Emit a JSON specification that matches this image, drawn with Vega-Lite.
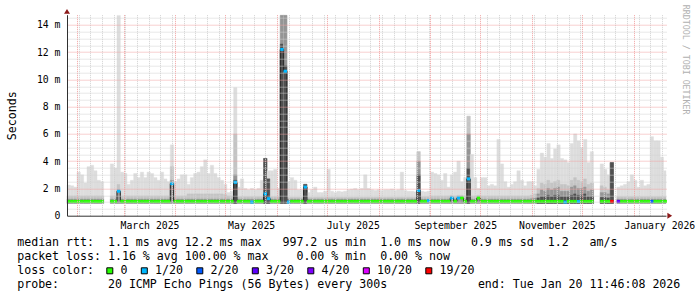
{
  "$schema": "https://vega.github.io/schema/vega-lite/v6.json",
  "width": 599,
  "height": 201,
  "autosize": "none",
  "padding": {"left": 67, "top": 14.7, "right": 31, "bottom": 81.3},
  "background": "white",
  "config": {
    "view": {"stroke": null},
    "axis": {"labelFont": "DejaVu Sans Mono", "labelFontSize": 9.8, "labelColor": "#000000", "titleFont": "DejaVu Sans Mono", "titleFontSize": 11.6, "titleFontWeight": "normal", "titleColor": "#000000", "ticks": false, "tickSize": 0, "gridDash": [1, 1], "gridWidth": 1, "domain": true, "domainColor": "#303030", "domainWidth": 1, "labelOverlap": false, "labelFlush": false}
  },
  "title": {"text": "RRDTOOL / TOBI OETIKER", "orient": "right", "anchor": "start", "frame": "group", "angle": 90, "baseline": "middle", "offset": -18.5, "dx": -10, "font": "DejaVu Sans Mono", "fontSize": 8.3, "fontWeight": "normal", "color": "#b0b0b0"},
  "datasets": {
    "ping": [
      {"t":"2025-01-26","t2":"2025-01-28","hi":2.25,"mid":1.45,"dk":1.22,"med":1.05,"loss":"0"},
      {"t":"2025-01-28","t2":"2025-01-30","hi":2.2,"mid":1.45,"dk":1.22,"med":1.05,"loss":"0"},
      {"t":"2025-01-30","t2":"2025-02-01","hi":2.1,"mid":1.45,"dk":1.22,"med":1.05,"loss":"0"},
      {"t":"2025-02-01","t2":"2025-02-03","hi":3.2,"mid":1.45,"dk":1.22,"med":1.05,"loss":"0"},
      {"t":"2025-02-03","t2":"2025-02-05","hi":3.0,"mid":1.45,"dk":1.22,"med":1.05,"loss":"0"},
      {"t":"2025-02-05","t2":"2025-02-07","hi":2.4,"mid":1.45,"dk":1.22,"med":1.05,"loss":"0"},
      {"t":"2025-02-07","t2":"2025-02-09","hi":3.6,"mid":1.45,"dk":1.22,"med":1.05,"loss":"0"},
      {"t":"2025-02-09","t2":"2025-02-11","hi":3.7,"mid":1.45,"dk":1.22,"med":1.05,"loss":"0"},
      {"t":"2025-02-11","t2":"2025-02-13","hi":3.3,"mid":1.45,"dk":1.22,"med":1.05,"loss":"0"},
      {"t":"2025-02-13","t2":"2025-02-15","hi":2.6,"mid":1.45,"dk":1.22,"med":1.05,"loss":"0"},
      {"t":"2025-02-15","t2":"2025-02-17","hi":2.5,"mid":1.45,"dk":1.22,"med":1.05,"loss":"0"},
      {"t":"2025-02-17","t2":"2025-02-19"},
      {"t":"2025-02-19","t2":"2025-02-21"},
      {"t":"2025-02-21","t2":"2025-02-23","hi":3.8,"mid":1.45,"dk":1.22,"med":1.05,"loss":"0"},
      {"t":"2025-02-23","t2":"2025-02-25","hi":3.5,"mid":1.45,"dk":1.22,"med":1.05,"loss":"0"},
      {"t":"2025-02-25","t2":"2025-02-27","hi":14.7,"mid":2.3,"dk":1.9,"med":1.8,"loss":"1/20"},
      {"t":"2025-02-27","t2":"2025-03-01","hi":3.2,"mid":1.45,"dk":1.22,"med":1.05,"loss":"0"},
      {"t":"2025-03-01","t2":"2025-03-03","hi":3.1,"mid":1.45,"dk":1.22,"med":1.05,"loss":"0"},
      {"t":"2025-03-03","t2":"2025-03-05","hi":2.3,"mid":1.45,"dk":1.22,"med":1.05,"loss":"0"},
      {"t":"2025-03-05","t2":"2025-03-07","hi":2.6,"mid":1.45,"dk":1.22,"med":1.05,"loss":"0"},
      {"t":"2025-03-07","t2":"2025-03-09","hi":3.1,"mid":1.45,"dk":1.22,"med":1.05,"loss":"0"},
      {"t":"2025-03-09","t2":"2025-03-11","hi":2.8,"mid":1.45,"dk":1.22,"med":1.05,"loss":"0"},
      {"t":"2025-03-11","t2":"2025-03-13","hi":3.2,"mid":1.45,"dk":1.22,"med":1.05,"loss":"0"},
      {"t":"2025-03-13","t2":"2025-03-15","hi":2.8,"mid":1.45,"dk":1.22,"med":1.05,"loss":"0"},
      {"t":"2025-03-15","t2":"2025-03-17","hi":3.2,"mid":1.45,"dk":1.22,"med":1.05,"loss":"0"},
      {"t":"2025-03-17","t2":"2025-03-19","hi":3.1,"mid":1.45,"dk":1.22,"med":1.05,"loss":"0"},
      {"t":"2025-03-19","t2":"2025-03-21","hi":2.8,"mid":1.45,"dk":1.22,"med":1.05,"loss":"0"},
      {"t":"2025-03-21","t2":"2025-03-23","hi":2.6,"mid":1.45,"dk":1.22,"med":1.05,"loss":"0"},
      {"t":"2025-03-23","t2":"2025-03-25","hi":3.2,"mid":1.45,"dk":1.22,"med":1.05,"loss":"0"},
      {"t":"2025-03-25","t2":"2025-03-27","hi":2.7,"mid":1.45,"dk":1.22,"med":1.05,"loss":"0"},
      {"t":"2025-03-27","t2":"2025-03-29","hi":2.5,"mid":1.45,"dk":1.22,"med":1.05,"loss":"0"},
      {"t":"2025-03-29","t2":"2025-03-31","hi":5.2,"mid":3.6,"dk":2.6,"med":2.35,"loss":"1/20"},
      {"t":"2025-03-31","t2":"2025-04-02","hi":2.5,"mid":1.45,"dk":1.22,"med":1.05,"loss":"0"},
      {"t":"2025-04-02","t2":"2025-04-04","hi":2.7,"mid":1.45,"dk":1.22,"med":1.05,"loss":"0"},
      {"t":"2025-04-04","t2":"2025-04-06","hi":3.0,"mid":1.45,"dk":1.22,"med":1.05,"loss":"0"},
      {"t":"2025-04-06","t2":"2025-04-08","hi":3.0,"mid":1.45,"dk":1.22,"med":1.05,"loss":"0"},
      {"t":"2025-04-08","t2":"2025-04-10","hi":2.3,"mid":1.6,"dk":1.22,"med":1.05,"loss":"0"},
      {"t":"2025-04-10","t2":"2025-04-12","hi":2.8,"mid":1.6,"dk":1.22,"med":1.05,"loss":"0"},
      {"t":"2025-04-12","t2":"2025-04-14","hi":3.1,"mid":1.6,"dk":1.22,"med":1.05,"loss":"0"},
      {"t":"2025-04-14","t2":"2025-04-16","hi":3.2,"mid":1.6,"dk":1.22,"med":1.05,"loss":"0"},
      {"t":"2025-04-16","t2":"2025-04-18","hi":3.6,"mid":1.6,"dk":1.22,"med":1.05,"loss":"0"},
      {"t":"2025-04-18","t2":"2025-04-20","hi":4.1,"mid":1.6,"dk":1.22,"med":1.05,"loss":"0"},
      {"t":"2025-04-20","t2":"2025-04-22","hi":3.1,"mid":1.6,"dk":1.22,"med":1.05,"loss":"0"},
      {"t":"2025-04-22","t2":"2025-04-24","hi":3.7,"mid":1.6,"dk":1.22,"med":1.05,"loss":"0"},
      {"t":"2025-04-24","t2":"2025-04-26","hi":3.1,"mid":1.6,"dk":1.22,"med":1.05,"loss":"0"},
      {"t":"2025-04-26","t2":"2025-04-28","hi":2.8,"mid":1.6,"dk":1.22,"med":1.05,"loss":"0"},
      {"t":"2025-04-28","t2":"2025-04-30","hi":2.6,"mid":1.6,"dk":1.22,"med":1.05,"loss":"0"},
      {"t":"2025-04-30","t2":"2025-05-02","hi":2.3,"mid":1.55,"dk":1.22,"med":1.05,"loss":"0"},
      {"t":"2025-05-02","t2":"2025-05-04","hi":1.7,"mid":1.45,"dk":1.22,"med":1.05,"loss":"0"},
      {"t":"2025-05-04","t2":"2025-05-06","hi":1.8,"mid":1.45,"dk":1.22,"med":1.05,"loss":"0"},
      {"t":"2025-05-06","t2":"2025-05-08","hi":9.4,"mid":6.0,"dk":3.0,"core":2.6,"med":2.45,"loss":"1/20"},
      {"t":"2025-05-08","t2":"2025-05-10","hi":2.1,"mid":1.4,"dk":1.22,"med":1.05,"loss":"0"},
      {"t":"2025-05-10","t2":"2025-05-12","hi":2.7,"mid":1.4,"dk":1.22,"med":1.05,"loss":"0"},
      {"t":"2025-05-12","t2":"2025-05-14","hi":2.0,"mid":1.4,"dk":1.22,"med":1.05,"loss":"0"},
      {"t":"2025-05-14","t2":"2025-05-16","hi":1.9,"mid":1.4,"dk":1.22,"med":1.05,"loss":"0"},
      {"t":"2025-05-16","t2":"2025-05-18","hi":2.0,"mid":1.4,"dk":1.22,"med":1.0,"loss":"1/20"},
      {"t":"2025-05-18","t2":"2025-05-20","hi":1.9,"mid":1.4,"dk":1.22,"med":1.05,"loss":"0"},
      {"t":"2025-05-20","t2":"2025-05-22","hi":2.0,"mid":1.4,"dk":1.22,"med":1.05,"loss":"0"},
      {"t":"2025-05-22","t2":"2025-05-24","hi":2.6,"mid":1.4,"dk":1.22,"med":1.05,"loss":"0"},
      {"t":"2025-05-24","t2":"2025-05-26","hi":4.2,"mid":4.2,"dk":4.2,"core":4.2,"med":1.6,"loss":"1/20"},
      {"t":"2025-05-26","t2":"2025-05-28","hi":3.3,"mid":2.7,"dk":2.7,"core":2.7,"med":1.25,"loss":"1/20"},
      {"t":"2025-05-28","t2":"2025-05-30","hi":3.3,"mid":1.4,"dk":1.22,"med":1.05,"loss":"0"},
      {"t":"2025-05-30","t2":"2025-06-01","hi":3.4,"mid":1.4,"dk":1.22,"med":1.05,"loss":"0"},
      {"t":"2025-06-01","t2":"2025-06-03","hi":2.0,"mid":1.4,"dk":1.22,"med":1.05,"loss":"0"},
      {"t":"2025-06-03","t2":"2025-06-05","hi":14.7,"mid":14.7,"dk":14.7,"core":12.6,"med":12.2,"loss":"1/20"},
      {"t":"2025-06-05","t2":"2025-06-07","hi":14.7,"mid":14.7,"dk":14.7,"core":11.0,"med":10.6,"loss":"1/20"},
      {"t":"2025-06-07","t2":"2025-06-09","hi":2.5,"mid":1.35,"dk":1.22,"med":1.0,"loss":"1/20"},
      {"t":"2025-06-09","t2":"2025-06-11","hi":2.8,"mid":1.35,"dk":1.22,"med":1.05,"loss":"0"},
      {"t":"2025-06-11","t2":"2025-06-13","hi":2.6,"mid":1.35,"dk":1.22,"med":1.05,"loss":"0"},
      {"t":"2025-06-13","t2":"2025-06-15","hi":1.9,"mid":1.35,"dk":1.22,"med":1.05,"loss":"0"},
      {"t":"2025-06-15","t2":"2025-06-17","hi":1.9,"mid":1.35,"dk":1.22,"med":1.05,"loss":"0"},
      {"t":"2025-06-17","t2":"2025-06-19","hi":2.3,"mid":2.3,"dk":2.3,"core":2.3,"med":2.1,"loss":"1/20"},
      {"t":"2025-06-19","t2":"2025-06-21","hi":1.7,"mid":1.35,"dk":1.22,"med":1.05,"loss":"0"},
      {"t":"2025-06-21","t2":"2025-06-23","hi":1.9,"mid":1.35,"dk":1.22,"med":1.05,"loss":"0"},
      {"t":"2025-06-23","t2":"2025-06-25","hi":2.1,"mid":1.35,"dk":1.22,"med":1.05,"loss":"0"},
      {"t":"2025-06-25","t2":"2025-06-27","hi":1.7,"mid":1.35,"dk":1.22,"med":1.05,"loss":"0"},
      {"t":"2025-06-27","t2":"2025-06-29","hi":1.7,"mid":1.35,"dk":1.22,"med":1.05,"loss":"0"},
      {"t":"2025-06-29","t2":"2025-07-01","hi":1.8,"mid":1.35,"dk":1.22,"med":1.05,"loss":"0"},
      {"t":"2025-07-01","t2":"2025-07-03","hi":3.4,"mid":1.35,"dk":1.22,"med":1.05,"loss":"0"},
      {"t":"2025-07-03","t2":"2025-07-05","hi":1.8,"mid":1.35,"dk":1.22,"med":1.05,"loss":"0"},
      {"t":"2025-07-05","t2":"2025-07-07","hi":1.7,"mid":1.35,"dk":1.22,"med":1.05,"loss":"0"},
      {"t":"2025-07-07","t2":"2025-07-09","hi":1.8,"mid":1.35,"dk":1.22,"med":1.05,"loss":"0"},
      {"t":"2025-07-09","t2":"2025-07-11","hi":1.75,"mid":1.35,"dk":1.22,"med":1.05,"loss":"0"},
      {"t":"2025-07-11","t2":"2025-07-13","hi":1.8,"mid":1.35,"dk":1.22,"med":1.05,"loss":"0"},
      {"t":"2025-07-13","t2":"2025-07-15","hi":1.9,"mid":1.35,"dk":1.22,"med":1.05,"loss":"0"},
      {"t":"2025-07-15","t2":"2025-07-17","hi":1.95,"mid":1.35,"dk":1.22,"med":1.05,"loss":"0"},
      {"t":"2025-07-17","t2":"2025-07-19","hi":2.0,"mid":1.35,"dk":1.22,"med":1.05,"loss":"0"},
      {"t":"2025-07-19","t2":"2025-07-21","hi":1.9,"mid":1.35,"dk":1.22,"med":1.05,"loss":"0"},
      {"t":"2025-07-21","t2":"2025-07-23","hi":2.0,"mid":1.35,"dk":1.22,"med":1.05,"loss":"0"},
      {"t":"2025-07-23","t2":"2025-07-25","hi":3.0,"mid":1.35,"dk":1.22,"med":1.05,"loss":"0"},
      {"t":"2025-07-25","t2":"2025-07-27","hi":2.0,"mid":1.35,"dk":1.22,"med":1.05,"loss":"0"},
      {"t":"2025-07-27","t2":"2025-07-29","hi":1.9,"mid":1.35,"dk":1.22,"med":1.05,"loss":"0"},
      {"t":"2025-07-29","t2":"2025-07-31","hi":1.85,"mid":1.35,"dk":1.22,"med":1.05,"loss":"0"},
      {"t":"2025-07-31","t2":"2025-08-02","hi":1.9,"mid":1.35,"dk":1.22,"med":1.05,"loss":"0"},
      {"t":"2025-08-02","t2":"2025-08-04","hi":1.85,"mid":1.35,"dk":1.22,"med":1.05,"loss":"0"},
      {"t":"2025-08-04","t2":"2025-08-06","hi":1.9,"mid":1.35,"dk":1.22,"med":1.05,"loss":"0"},
      {"t":"2025-08-06","t2":"2025-08-08","hi":1.9,"mid":1.35,"dk":1.22,"med":1.05,"loss":"0"},
      {"t":"2025-08-08","t2":"2025-08-10","hi":1.95,"mid":1.35,"dk":1.22,"med":1.05,"loss":"0"},
      {"t":"2025-08-10","t2":"2025-08-12","hi":1.85,"mid":1.35,"dk":1.22,"med":1.05,"loss":"0"},
      {"t":"2025-08-12","t2":"2025-08-14","hi":1.9,"mid":1.35,"dk":1.22,"med":1.05,"loss":"0"},
      {"t":"2025-08-14","t2":"2025-08-16","hi":3.2,"mid":1.35,"dk":1.22,"med":1.05,"loss":"0"},
      {"t":"2025-08-16","t2":"2025-08-18","hi":1.85,"mid":1.35,"dk":1.22,"med":1.05,"loss":"0"},
      {"t":"2025-08-18","t2":"2025-08-20","hi":1.8,"mid":1.35,"dk":1.22,"med":1.05,"loss":"0"},
      {"t":"2025-08-20","t2":"2025-08-22","hi":1.8,"mid":1.35,"dk":1.22,"med":1.05,"loss":"0"},
      {"t":"2025-08-22","t2":"2025-08-24","hi":1.75,"mid":1.35,"dk":1.22,"med":1.05,"loss":"0"},
      {"t":"2025-08-24","t2":"2025-08-26","hi":4.7,"mid":4.7,"dk":4.0,"core":3.0,"med":1.85,"loss":"1/20"},
      {"t":"2025-08-26","t2":"2025-08-28","hi":1.8,"mid":1.4,"dk":1.22,"med":1.05,"loss":"0"},
      {"t":"2025-08-28","t2":"2025-08-30","hi":1.75,"mid":1.4,"dk":1.22,"med":1.05,"loss":"0"},
      {"t":"2025-08-30","t2":"2025-09-01","hi":1.8,"mid":1.4,"dk":1.22,"med":1.1,"loss":"1/20"},
      {"t":"2025-09-01","t2":"2025-09-03","hi":3.2,"mid":1.45,"dk":1.22,"med":1.05,"loss":"0"},
      {"t":"2025-09-03","t2":"2025-09-05","hi":3.1,"mid":1.45,"dk":1.22,"med":1.05,"loss":"0"},
      {"t":"2025-09-05","t2":"2025-09-07","hi":3.0,"mid":1.45,"dk":1.22,"med":1.05,"loss":"0"},
      {"t":"2025-09-07","t2":"2025-09-09","hi":2.6,"mid":1.45,"dk":1.22,"med":1.05,"loss":"0"},
      {"t":"2025-09-09","t2":"2025-09-11","hi":3.1,"mid":1.45,"dk":1.22,"med":1.05,"loss":"0"},
      {"t":"2025-09-11","t2":"2025-09-13","hi":2.1,"mid":1.45,"dk":1.22,"med":1.05,"loss":"0"},
      {"t":"2025-09-13","t2":"2025-09-15","hi":3.0,"mid":1.5,"dk":1.4,"med":1.3,"loss":"1/20"},
      {"t":"2025-09-15","t2":"2025-09-17","hi":3.2,"mid":1.45,"dk":1.22,"med":1.05,"loss":"0"},
      {"t":"2025-09-17","t2":"2025-09-19","hi":4.0,"mid":1.5,"dk":1.4,"med":1.3,"loss":"1/20"},
      {"t":"2025-09-19","t2":"2025-09-21","hi":2.5,"mid":1.5,"dk":1.4,"med":1.3,"loss":"0"},
      {"t":"2025-09-21","t2":"2025-09-23","hi":2.8,"mid":1.45,"dk":1.22,"med":1.05,"loss":"0"},
      {"t":"2025-09-23","t2":"2025-09-25","hi":7.3,"mid":7.3,"dk":6.0,"core":3.5,"med":2.7,"loss":"1/20"},
      {"t":"2025-09-25","t2":"2025-09-27","hi":4.5,"mid":1.45,"dk":1.22,"med":1.05,"loss":"0"},
      {"t":"2025-09-27","t2":"2025-09-29","hi":2.8,"mid":1.45,"dk":1.22,"med":1.05,"loss":"0"},
      {"t":"2025-09-29","t2":"2025-10-01","hi":2.0,"mid":1.5,"dk":1.4,"med":1.3,"loss":"0"},
      {"t":"2025-10-01","t2":"2025-10-03","hi":2.8,"mid":1.45,"dk":1.22,"med":1.05,"loss":"0"},
      {"t":"2025-10-03","t2":"2025-10-05","hi":2.8,"mid":1.45,"dk":1.22,"med":1.05,"loss":"0"},
      {"t":"2025-10-05","t2":"2025-10-07","hi":2.2,"mid":1.45,"dk":1.22,"med":1.05,"loss":"0"},
      {"t":"2025-10-07","t2":"2025-10-09","hi":2.3,"mid":1.45,"dk":1.22,"med":1.05,"loss":"0"},
      {"t":"2025-10-09","t2":"2025-10-11","hi":2.2,"mid":1.45,"dk":1.22,"med":1.05,"loss":"0"},
      {"t":"2025-10-11","t2":"2025-10-13","hi":5.6,"mid":1.45,"dk":1.22,"med":1.05,"loss":"0"},
      {"t":"2025-10-13","t2":"2025-10-15","hi":3.8,"mid":1.45,"dk":1.22,"med":1.05,"loss":"0"},
      {"t":"2025-10-15","t2":"2025-10-17","hi":2.5,"mid":1.45,"dk":1.22,"med":1.05,"loss":"0"},
      {"t":"2025-10-17","t2":"2025-10-19","hi":2.1,"mid":1.45,"dk":1.22,"med":1.05,"loss":"0"},
      {"t":"2025-10-19","t2":"2025-10-21","hi":2.3,"mid":1.45,"dk":1.22,"med":1.05,"loss":"0"},
      {"t":"2025-10-21","t2":"2025-10-23","hi":2.5,"mid":1.45,"dk":1.22,"med":1.05,"loss":"0"},
      {"t":"2025-10-23","t2":"2025-10-25","hi":3.3,"mid":1.45,"dk":1.22,"med":1.05,"loss":"0"},
      {"t":"2025-10-25","t2":"2025-10-27","hi":2.6,"mid":1.45,"dk":1.22,"med":1.05,"loss":"0"},
      {"t":"2025-10-27","t2":"2025-10-29","hi":2.2,"mid":1.45,"dk":1.22,"med":1.05,"loss":"0"},
      {"t":"2025-10-29","t2":"2025-10-31","hi":2.5,"mid":1.45,"dk":1.22,"med":1.05,"loss":"0"},
      {"t":"2025-10-31","t2":"2025-11-02","hi":2.5,"mid":1.5,"dk":1.25,"med":1.05,"loss":"0"},
      {"t":"2025-11-02","t2":"2025-11-04","hi":2.2,"mid":1.6,"dk":1.3,"med":1.05,"loss":"0"},
      {"t":"2025-11-04","t2":"2025-11-06","hi":3.4,"mid":2.0,"dk":1.6,"core":1.3,"med":1.05,"loss":"0"},
      {"t":"2025-11-06","t2":"2025-11-08","hi":4.6,"mid":2.4,"dk":1.9,"core":1.4,"med":1.05,"loss":"0"},
      {"t":"2025-11-08","t2":"2025-11-10","hi":4.3,"mid":2.3,"dk":1.8,"core":1.4,"med":1.05,"loss":"0"},
      {"t":"2025-11-10","t2":"2025-11-12","hi":5.3,"mid":2.6,"dk":2.0,"core":1.5,"med":1.05,"loss":"0"},
      {"t":"2025-11-12","t2":"2025-11-14","hi":4.2,"mid":2.4,"dk":1.9,"core":1.4,"med":1.05,"loss":"0"},
      {"t":"2025-11-14","t2":"2025-11-16","hi":4.9,"mid":2.5,"dk":2.0,"core":1.5,"med":1.05,"loss":"0"},
      {"t":"2025-11-16","t2":"2025-11-18","hi":5.2,"mid":2.6,"dk":2.1,"core":1.5,"med":1.05,"loss":"0"},
      {"t":"2025-11-18","t2":"2025-11-20","hi":4.2,"mid":2.3,"dk":1.8,"core":1.4,"med":1.05,"loss":"0"},
      {"t":"2025-11-20","t2":"2025-11-22","hi":4.1,"mid":2.3,"dk":1.8,"core":1.4,"med":1.0,"loss":"1/20"},
      {"t":"2025-11-22","t2":"2025-11-24","hi":3.9,"mid":2.2,"dk":1.8,"core":1.4,"med":1.05,"loss":"0"},
      {"t":"2025-11-24","t2":"2025-11-26","hi":5.3,"mid":2.6,"dk":2.1,"core":1.5,"med":1.05,"loss":"0"},
      {"t":"2025-11-26","t2":"2025-11-28","hi":6.0,"mid":2.8,"dk":2.2,"core":1.6,"med":1.05,"loss":"0"},
      {"t":"2025-11-28","t2":"2025-11-30","hi":5.5,"mid":2.6,"dk":2.0,"core":1.5,"med":1.05,"loss":"1/20"},
      {"t":"2025-11-30","t2":"2025-12-02","hi":5.0,"mid":2.5,"dk":2.0,"core":1.5,"med":1.05,"loss":"0"},
      {"t":"2025-12-02","t2":"2025-12-04","hi":5.6,"mid":2.7,"dk":2.1,"core":1.6,"med":1.05,"loss":"0"},
      {"t":"2025-12-04","t2":"2025-12-06","hi":3.9,"mid":2.3,"dk":1.8,"core":1.4,"med":1.05,"loss":"0"},
      {"t":"2025-12-06","t2":"2025-12-08","hi":4.7,"mid":2.4,"dk":1.9,"core":1.4,"med":1.05,"loss":"0"},
      {"t":"2025-12-08","t2":"2025-12-10"},
      {"t":"2025-12-10","t2":"2025-12-12"},
      {"t":"2025-12-12","t2":"2025-12-14","hi":3.8,"mid":2.2,"dk":1.7,"core":1.35,"med":1.05,"loss":"0"},
      {"t":"2025-12-14","t2":"2025-12-16","hi":3.4,"mid":2.1,"dk":1.7,"core":1.35,"med":1.05,"loss":"0"},
      {"t":"2025-12-16","t2":"2025-12-18","hi":3.0,"mid":1.9,"dk":1.6,"core":1.3,"med":1.05,"loss":"0"},
      {"t":"2025-12-18","t2":"2025-12-20","hi":3.9,"mid":3.9,"dk":3.9,"core":3.9,"med":1.05,"loss":"19/20"},
      {"t":"2025-12-20","t2":"2025-12-22"},
      {"t":"2025-12-22","t2":"2025-12-24","hi":2.1,"mid":1.4,"dk":1.22,"med":1.05,"loss":"3/20"},
      {"t":"2025-12-24","t2":"2025-12-26","hi":2.2,"mid":1.4,"dk":1.22,"med":1.05,"loss":"0"},
      {"t":"2025-12-26","t2":"2025-12-28","hi":2.3,"mid":1.4,"dk":1.22,"med":1.05,"loss":"0"},
      {"t":"2025-12-28","t2":"2025-12-30","hi":2.5,"mid":1.4,"dk":1.22,"med":1.05,"loss":"0"},
      {"t":"2025-12-30","t2":"2026-01-01","hi":3.0,"mid":1.4,"dk":1.22,"med":1.05,"loss":"0"},
      {"t":"2026-01-01","t2":"2026-01-03","hi":2.6,"mid":1.4,"dk":1.22,"med":1.05,"loss":"0"},
      {"t":"2026-01-03","t2":"2026-01-05","hi":2.1,"mid":1.4,"dk":1.22,"med":1.05,"loss":"0"},
      {"t":"2026-01-05","t2":"2026-01-07","hi":2.6,"mid":1.4,"dk":1.22,"med":1.05,"loss":"0"},
      {"t":"2026-01-07","t2":"2026-01-09","hi":2.2,"mid":1.4,"dk":1.22,"med":1.05,"loss":"0"},
      {"t":"2026-01-09","t2":"2026-01-11","hi":2.3,"mid":1.4,"dk":1.22,"med":1.05,"loss":"0"},
      {"t":"2026-01-11","t2":"2026-01-13","hi":5.8,"mid":1.4,"dk":1.22,"med":1.05,"loss":"2/20"},
      {"t":"2026-01-13","t2":"2026-01-15","hi":5.5,"mid":1.4,"dk":1.22,"med":1.05,"loss":"0"},
      {"t":"2026-01-15","t2":"2026-01-17","hi":5.5,"mid":1.4,"dk":1.22,"med":1.05,"loss":"0"},
      {"t":"2026-01-17","t2":"2026-01-19","hi":4.3,"mid":1.4,"dk":1.22,"med":1.05,"loss":"0"},
      {"t":"2026-01-19","t2":"2026-01-20T11:46:08Z","hi":3.3,"mid":1.4,"dk":1.22,"med":1.05,"loss":"0"}
    ]
  },
  "data": {"name": "ping"},
  "layer": [
    {
      "transform": [{"fold": ["hi", "mid", "dk", "core"], "as": ["band", "v"]}],
      "mark": {"type": "rect", "strokeWidth": 0.4},
      "encoding": {
        "x": {"field": "t", "type": "temporal",
          "scale": {"type": "utc", "domain": [{"year":2025,"month":1,"date":26,"utc":true},{"year":2026,"month":1,"date":20,"hours":11,"minutes":46,"utc":true}]},
          "axis": {"values": [1738368000000,1740787200000,1743465600000,1746057600000,1748736000000,1751328000000,1754006400000,1756684800000,1759276800000,1761955200000,1764547200000,1767225600000,1738454400000,1739059200000,1739664000000,1740268800000,1740873600000,1741478400000,1742083200000,1742688000000,1743292800000,1743897600000,1744502400000,1745107200000,1745712000000,1746316800000,1746921600000,1747526400000,1748131200000,1749340800000,1749945600000,1750550400000,1751155200000,1751760000000,1752364800000,1752969600000,1753574400000,1754179200000,1754784000000,1755388800000,1755993600000,1756598400000,1757203200000,1757808000000,1758412800000,1759017600000,1759622400000,1760227200000,1760832000000,1761436800000,1762041600000,1762646400000,1763251200000,1763856000000,1764460800000,1765065600000,1765670400000,1766275200000,1766880000000,1767484800000,1768089600000,1768694400000,1742126460000,1747396860000,1752667260000,1757980860000,1763251260000,1768564860000],
            "grid": true,
            "gridColor": {"condition": {"test": "utcdate(datum.value) == 1 && utchours(datum.value) == 0", "value": "#f0a0a0"}, "value": "#d0d0d0"},
            "gridOpacity": {"condition": {"test": "utcminutes(datum.value) == 1", "value": 0}, "value": 1},
            "labelExpr": "utcminutes(datum.value) == 1 ? utcFormat(datum.value, '%B %Y') : ''",
            "labelPadding": 5, "zindex": 1,
            "title": ["median\u00a0rtt:\u00a0\u00a01.1\u00a0ms\u00a0avg\u00a012.2\u00a0ms\u00a0max\u00a0\u00a0\u00a0997.2\u00a0us\u00a0min\u00a0\u00a01.0\u00a0ms\u00a0now\u00a0\u00a0\u00a00.9\u00a0ms\u00a0sd\u00a0\u00a01.2\u00a0\u00a0\u00a0am/s", "packet\u00a0loss:\u00a01.16\u00a0%\u00a0avg\u00a0100.00\u00a0%\u00a0max\u00a0\u00a0\u00a0\u00a00.00\u00a0%\u00a0min\u00a0\u00a00.00\u00a0%\u00a0now", "loss\u00a0color:", "probe:\u00a0\u00a0\u00a0\u00a0\u00a0\u00a0\u00a020\u00a0ICMP\u00a0Echo\u00a0Pings\u00a0(56\u00a0Bytes)\u00a0every\u00a0300s\u00a0\u00a0\u00a0\u00a0\u00a0\u00a0\u00a0\u00a0\u00a0\u00a0\u00a0\u00a0\u00a0end:\u00a0Tue\u00a0Jan\u00a020\u00a011:46:08\u00a02026"],
            "titleAnchor": "start", "titleAlign": "left", "titleBaseline": "alphabetic", "titleLineHeight": 14, "titleX": -50.3, "titleY": 29.3}},
        "x2": {"field": "t2"},
        "y": {"field": "v", "type": "quantitative",
          "scale": {"domain": [0, 14.75], "nice": false, "zero": false},
          "axis": {"values": [0,0.5,1,1.5,2,2.5,3,3.5,4,4.5,5,5.5,6,6.5,7,7.5,8,8.5,9,9.5,10,10.5,11,11.5,12,12.5,13,13.5,14,14.5],
            "grid": true,
            "gridColor": {"condition": {"test": "datum.value % 2 == 0", "value": "#f0a0a0"}, "value": "#d0d0d0"},
            "gridOpacity": {"condition": {"test": "datum.value == 0", "value": 0}, "value": 1},
            "labelExpr": "datum.value % 2 != 0 ? '' : (datum.value == 0 ? '0\u00a0\u00a0' : datum.value + '\u00a0m')",
            "labelPadding": 7, "labelBaseline": "middle", "zindex": 1,
            "title": "Seconds", "titleAngle": -90, "titleAlign": "center", "titleBaseline": "alphabetic", "titleX": -52, "titleY": 100.5}},
        "y2": {"datum": 0.9},
        "fill": {"field": "band", "type": "nominal", "scale": {"domain": ["hi","mid","dk","core"], "range": ["#dddddd","#c4c4c4","#959595","#505050"]}, "legend": null},
        "stroke": {"field": "band", "type": "nominal", "scale": {"domain": ["hi","mid","dk","core"], "range": ["#dddddd","#c4c4c4","#959595","#505050"]}, "legend": null}
      }
    },
    {
      "mark": {"type": "line", "interpolate": "step-after", "color": "#202020", "strokeWidth": 1},
      "encoding": {
        "x": {"field": "t", "type": "temporal",
          "scale": {"type": "utc", "domain": [{"year":2025,"month":1,"date":26,"utc":true},{"year":2026,"month":1,"date":20,"hours":11,"minutes":46,"utc":true}]},
          "axis": {"values": [1738368000000,1740787200000,1743465600000,1746057600000,1748736000000,1751328000000,1754006400000,1756684800000,1759276800000,1761955200000,1764547200000,1767225600000,1738454400000,1739059200000,1739664000000,1740268800000,1740873600000,1741478400000,1742083200000,1742688000000,1743292800000,1743897600000,1744502400000,1745107200000,1745712000000,1746316800000,1746921600000,1747526400000,1748131200000,1749340800000,1749945600000,1750550400000,1751155200000,1751760000000,1752364800000,1752969600000,1753574400000,1754179200000,1754784000000,1755388800000,1755993600000,1756598400000,1757203200000,1757808000000,1758412800000,1759017600000,1759622400000,1760227200000,1760832000000,1761436800000,1762041600000,1762646400000,1763251200000,1763856000000,1764460800000,1765065600000,1765670400000,1766275200000,1766880000000,1767484800000,1768089600000,1768694400000,1742126460000,1747396860000,1752667260000,1757980860000,1763251260000,1768564860000],
            "grid": true,
            "gridColor": {"condition": {"test": "utcdate(datum.value) == 1 && utchours(datum.value) == 0", "value": "#f0a0a0"}, "value": "#d0d0d0"},
            "gridOpacity": {"condition": {"test": "utcminutes(datum.value) == 1", "value": 0}, "value": 1},
            "labelExpr": "utcminutes(datum.value) == 1 ? utcFormat(datum.value, '%B %Y') : ''",
            "labelPadding": 5, "zindex": 1,
            "title": ["median\u00a0rtt:\u00a0\u00a01.1\u00a0ms\u00a0avg\u00a012.2\u00a0ms\u00a0max\u00a0\u00a0\u00a0997.2\u00a0us\u00a0min\u00a0\u00a01.0\u00a0ms\u00a0now\u00a0\u00a0\u00a00.9\u00a0ms\u00a0sd\u00a0\u00a01.2\u00a0\u00a0\u00a0am/s", "packet\u00a0loss:\u00a01.16\u00a0%\u00a0avg\u00a0100.00\u00a0%\u00a0max\u00a0\u00a0\u00a0\u00a00.00\u00a0%\u00a0min\u00a0\u00a00.00\u00a0%\u00a0now", "loss\u00a0color:", "probe:\u00a0\u00a0\u00a0\u00a0\u00a0\u00a0\u00a020\u00a0ICMP\u00a0Echo\u00a0Pings\u00a0(56\u00a0Bytes)\u00a0every\u00a0300s\u00a0\u00a0\u00a0\u00a0\u00a0\u00a0\u00a0\u00a0\u00a0\u00a0\u00a0\u00a0\u00a0end:\u00a0Tue\u00a0Jan\u00a020\u00a011:46:08\u00a02026"],
            "titleAnchor": "start", "titleAlign": "left", "titleBaseline": "alphabetic", "titleLineHeight": 14, "titleX": -50.3, "titleY": 29.3}},
        "y": {"field": "med", "type": "quantitative",
          "scale": {"domain": [0, 14.75], "nice": false, "zero": false},
          "axis": {"values": [0,0.5,1,1.5,2,2.5,3,3.5,4,4.5,5,5.5,6,6.5,7,7.5,8,8.5,9,9.5,10,10.5,11,11.5,12,12.5,13,13.5,14,14.5],
            "grid": true,
            "gridColor": {"condition": {"test": "datum.value % 2 == 0", "value": "#f0a0a0"}, "value": "#d0d0d0"},
            "gridOpacity": {"condition": {"test": "datum.value == 0", "value": 0}, "value": 1},
            "labelExpr": "datum.value % 2 != 0 ? '' : (datum.value == 0 ? '0\u00a0\u00a0' : datum.value + '\u00a0m')",
            "labelPadding": 7, "labelBaseline": "middle", "zindex": 1,
            "title": "Seconds", "titleAngle": -90, "titleAlign": "center", "titleBaseline": "alphabetic", "titleX": -52, "titleY": 100.5}}
      }
    },
    {
      "mark": {"type": "tick", "orient": "horizontal", "size": 3.4, "thickness": 3, "xOffset": 1.67, "opacity": 1},
      "encoding": {
        "x": {"field": "t", "type": "temporal",
          "scale": {"type": "utc", "domain": [{"year":2025,"month":1,"date":26,"utc":true},{"year":2026,"month":1,"date":20,"hours":11,"minutes":46,"utc":true}]},
          "axis": {"values": [1738368000000,1740787200000,1743465600000,1746057600000,1748736000000,1751328000000,1754006400000,1756684800000,1759276800000,1761955200000,1764547200000,1767225600000,1738454400000,1739059200000,1739664000000,1740268800000,1740873600000,1741478400000,1742083200000,1742688000000,1743292800000,1743897600000,1744502400000,1745107200000,1745712000000,1746316800000,1746921600000,1747526400000,1748131200000,1749340800000,1749945600000,1750550400000,1751155200000,1751760000000,1752364800000,1752969600000,1753574400000,1754179200000,1754784000000,1755388800000,1755993600000,1756598400000,1757203200000,1757808000000,1758412800000,1759017600000,1759622400000,1760227200000,1760832000000,1761436800000,1762041600000,1762646400000,1763251200000,1763856000000,1764460800000,1765065600000,1765670400000,1766275200000,1766880000000,1767484800000,1768089600000,1768694400000,1742126460000,1747396860000,1752667260000,1757980860000,1763251260000,1768564860000],
            "grid": true,
            "gridColor": {"condition": {"test": "utcdate(datum.value) == 1 && utchours(datum.value) == 0", "value": "#f0a0a0"}, "value": "#d0d0d0"},
            "gridOpacity": {"condition": {"test": "utcminutes(datum.value) == 1", "value": 0}, "value": 1},
            "labelExpr": "utcminutes(datum.value) == 1 ? utcFormat(datum.value, '%B %Y') : ''",
            "labelPadding": 5, "zindex": 1,
            "title": ["median\u00a0rtt:\u00a0\u00a01.1\u00a0ms\u00a0avg\u00a012.2\u00a0ms\u00a0max\u00a0\u00a0\u00a0997.2\u00a0us\u00a0min\u00a0\u00a01.0\u00a0ms\u00a0now\u00a0\u00a0\u00a00.9\u00a0ms\u00a0sd\u00a0\u00a01.2\u00a0\u00a0\u00a0am/s", "packet\u00a0loss:\u00a01.16\u00a0%\u00a0avg\u00a0100.00\u00a0%\u00a0max\u00a0\u00a0\u00a0\u00a00.00\u00a0%\u00a0min\u00a0\u00a00.00\u00a0%\u00a0now", "loss\u00a0color:", "probe:\u00a0\u00a0\u00a0\u00a0\u00a0\u00a0\u00a020\u00a0ICMP\u00a0Echo\u00a0Pings\u00a0(56\u00a0Bytes)\u00a0every\u00a0300s\u00a0\u00a0\u00a0\u00a0\u00a0\u00a0\u00a0\u00a0\u00a0\u00a0\u00a0\u00a0\u00a0end:\u00a0Tue\u00a0Jan\u00a020\u00a011:46:08\u00a02026"],
            "titleAnchor": "start", "titleAlign": "left", "titleBaseline": "alphabetic", "titleLineHeight": 14, "titleX": -50.3, "titleY": 29.3}},
        "y": {"field": "med", "type": "quantitative",
          "scale": {"domain": [0, 14.75], "nice": false, "zero": false},
          "axis": {"values": [0,0.5,1,1.5,2,2.5,3,3.5,4,4.5,5,5.5,6,6.5,7,7.5,8,8.5,9,9.5,10,10.5,11,11.5,12,12.5,13,13.5,14,14.5],
            "grid": true,
            "gridColor": {"condition": {"test": "datum.value % 2 == 0", "value": "#f0a0a0"}, "value": "#d0d0d0"},
            "gridOpacity": {"condition": {"test": "datum.value == 0", "value": 0}, "value": 1},
            "labelExpr": "datum.value % 2 != 0 ? '' : (datum.value == 0 ? '0\u00a0\u00a0' : datum.value + '\u00a0m')",
            "labelPadding": 7, "labelBaseline": "middle", "zindex": 1,
            "title": "Seconds", "titleAngle": -90, "titleAlign": "center", "titleBaseline": "alphabetic", "titleX": -52, "titleY": 100.5}},
        "color": {"field": "loss", "type": "nominal",
          "scale": {"domain": ["0","1/20","2/20","3/20","4/20","10/20","19/20"], "range": ["#26ff00","#00b8ff","#0059ff","#5e00ff","#7e00ff","#dd00ff","#ff0000"]},
          "legend": {"title": null, "orient": "none", "legendX": 37, "legendY": 250, "direction": "horizontal",
            "labelFont": "DejaVu Sans Mono", "labelFontSize": 11.6, "labelColor": "#000000", "labelOffset": 5, "columnPadding": 10.5,
            "symbolType": "square", "symbolSize": 36, "symbolStrokeColor": "#000000", "symbolStrokeWidth": 1, "symbolOpacity": 1, "padding": 0}}
      }
    },
    {
      "transform": [{"filter": {"field": "hi", "equal": 2.25}}],
      "mark": {"type": "point", "shape": "M-0.8,-1L0.8,0L-0.8,1Z", "size": 36, "filled": true, "opacity": 1, "color": "#8c1a1a"},
      "encoding": {
        "x": {"datum": {"year":2026,"month":1,"date":22,"hours":18,"utc":true}, "type": "temporal",
          "scale": {"type": "utc", "domain": [{"year":2025,"month":1,"date":26,"utc":true},{"year":2026,"month":1,"date":20,"hours":11,"minutes":46,"utc":true}]},
          "axis": {"values": [1738368000000,1740787200000,1743465600000,1746057600000,1748736000000,1751328000000,1754006400000,1756684800000,1759276800000,1761955200000,1764547200000,1767225600000,1738454400000,1739059200000,1739664000000,1740268800000,1740873600000,1741478400000,1742083200000,1742688000000,1743292800000,1743897600000,1744502400000,1745107200000,1745712000000,1746316800000,1746921600000,1747526400000,1748131200000,1749340800000,1749945600000,1750550400000,1751155200000,1751760000000,1752364800000,1752969600000,1753574400000,1754179200000,1754784000000,1755388800000,1755993600000,1756598400000,1757203200000,1757808000000,1758412800000,1759017600000,1759622400000,1760227200000,1760832000000,1761436800000,1762041600000,1762646400000,1763251200000,1763856000000,1764460800000,1765065600000,1765670400000,1766275200000,1766880000000,1767484800000,1768089600000,1768694400000,1742126460000,1747396860000,1752667260000,1757980860000,1763251260000,1768564860000],
            "grid": true,
            "gridColor": {"condition": {"test": "utcdate(datum.value) == 1 && utchours(datum.value) == 0", "value": "#f0a0a0"}, "value": "#d0d0d0"},
            "gridOpacity": {"condition": {"test": "utcminutes(datum.value) == 1", "value": 0}, "value": 1},
            "labelExpr": "utcminutes(datum.value) == 1 ? utcFormat(datum.value, '%B %Y') : ''",
            "labelPadding": 5, "zindex": 1,
            "title": ["median\u00a0rtt:\u00a0\u00a01.1\u00a0ms\u00a0avg\u00a012.2\u00a0ms\u00a0max\u00a0\u00a0\u00a0997.2\u00a0us\u00a0min\u00a0\u00a01.0\u00a0ms\u00a0now\u00a0\u00a0\u00a00.9\u00a0ms\u00a0sd\u00a0\u00a01.2\u00a0\u00a0\u00a0am/s", "packet\u00a0loss:\u00a01.16\u00a0%\u00a0avg\u00a0100.00\u00a0%\u00a0max\u00a0\u00a0\u00a0\u00a00.00\u00a0%\u00a0min\u00a0\u00a00.00\u00a0%\u00a0now", "loss\u00a0color:", "probe:\u00a0\u00a0\u00a0\u00a0\u00a0\u00a0\u00a020\u00a0ICMP\u00a0Echo\u00a0Pings\u00a0(56\u00a0Bytes)\u00a0every\u00a0300s\u00a0\u00a0\u00a0\u00a0\u00a0\u00a0\u00a0\u00a0\u00a0\u00a0\u00a0\u00a0\u00a0end:\u00a0Tue\u00a0Jan\u00a020\u00a011:46:08\u00a02026"],
            "titleAnchor": "start", "titleAlign": "left", "titleBaseline": "alphabetic", "titleLineHeight": 14, "titleX": -50.3, "titleY": 29.3}},
        "y": {"datum": 0, "type": "quantitative",
          "scale": {"domain": [0, 14.75], "nice": false, "zero": false},
          "axis": {"values": [0,0.5,1,1.5,2,2.5,3,3.5,4,4.5,5,5.5,6,6.5,7,7.5,8,8.5,9,9.5,10,10.5,11,11.5,12,12.5,13,13.5,14,14.5],
            "grid": true,
            "gridColor": {"condition": {"test": "datum.value % 2 == 0", "value": "#f0a0a0"}, "value": "#d0d0d0"},
            "gridOpacity": {"condition": {"test": "datum.value == 0", "value": 0}, "value": 1},
            "labelExpr": "datum.value % 2 != 0 ? '' : (datum.value == 0 ? '0\u00a0\u00a0' : datum.value + '\u00a0m')",
            "labelPadding": 7, "labelBaseline": "middle", "zindex": 1,
            "title": "Seconds", "titleAngle": -90, "titleAlign": "center", "titleBaseline": "alphabetic", "titleX": -52, "titleY": 100.5}}
      }
    },
    {
      "transform": [{"filter": {"field": "hi", "equal": 2.25}}],
      "mark": {"type": "point", "shape": "M-1,0.8L0,-0.8L1,0.8Z", "size": 36, "filled": true, "opacity": 1, "color": "#8c1a1a"},
      "encoding": {
        "x": {"datum": {"year":2025,"month":1,"date":26,"utc":true}, "type": "temporal",
          "scale": {"type": "utc", "domain": [{"year":2025,"month":1,"date":26,"utc":true},{"year":2026,"month":1,"date":20,"hours":11,"minutes":46,"utc":true}]},
          "axis": {"values": [1738368000000,1740787200000,1743465600000,1746057600000,1748736000000,1751328000000,1754006400000,1756684800000,1759276800000,1761955200000,1764547200000,1767225600000,1738454400000,1739059200000,1739664000000,1740268800000,1740873600000,1741478400000,1742083200000,1742688000000,1743292800000,1743897600000,1744502400000,1745107200000,1745712000000,1746316800000,1746921600000,1747526400000,1748131200000,1749340800000,1749945600000,1750550400000,1751155200000,1751760000000,1752364800000,1752969600000,1753574400000,1754179200000,1754784000000,1755388800000,1755993600000,1756598400000,1757203200000,1757808000000,1758412800000,1759017600000,1759622400000,1760227200000,1760832000000,1761436800000,1762041600000,1762646400000,1763251200000,1763856000000,1764460800000,1765065600000,1765670400000,1766275200000,1766880000000,1767484800000,1768089600000,1768694400000,1742126460000,1747396860000,1752667260000,1757980860000,1763251260000,1768564860000],
            "grid": true,
            "gridColor": {"condition": {"test": "utcdate(datum.value) == 1 && utchours(datum.value) == 0", "value": "#f0a0a0"}, "value": "#d0d0d0"},
            "gridOpacity": {"condition": {"test": "utcminutes(datum.value) == 1", "value": 0}, "value": 1},
            "labelExpr": "utcminutes(datum.value) == 1 ? utcFormat(datum.value, '%B %Y') : ''",
            "labelPadding": 5, "zindex": 1,
            "title": ["median\u00a0rtt:\u00a0\u00a01.1\u00a0ms\u00a0avg\u00a012.2\u00a0ms\u00a0max\u00a0\u00a0\u00a0997.2\u00a0us\u00a0min\u00a0\u00a01.0\u00a0ms\u00a0now\u00a0\u00a0\u00a00.9\u00a0ms\u00a0sd\u00a0\u00a01.2\u00a0\u00a0\u00a0am/s", "packet\u00a0loss:\u00a01.16\u00a0%\u00a0avg\u00a0100.00\u00a0%\u00a0max\u00a0\u00a0\u00a0\u00a00.00\u00a0%\u00a0min\u00a0\u00a00.00\u00a0%\u00a0now", "loss\u00a0color:", "probe:\u00a0\u00a0\u00a0\u00a0\u00a0\u00a0\u00a020\u00a0ICMP\u00a0Echo\u00a0Pings\u00a0(56\u00a0Bytes)\u00a0every\u00a0300s\u00a0\u00a0\u00a0\u00a0\u00a0\u00a0\u00a0\u00a0\u00a0\u00a0\u00a0\u00a0\u00a0end:\u00a0Tue\u00a0Jan\u00a020\u00a011:46:08\u00a02026"],
            "titleAnchor": "start", "titleAlign": "left", "titleBaseline": "alphabetic", "titleLineHeight": 14, "titleX": -50.3, "titleY": 29.3}},
        "y": {"datum": 15.0, "type": "quantitative",
          "scale": {"domain": [0, 14.75], "nice": false, "zero": false},
          "axis": {"values": [0,0.5,1,1.5,2,2.5,3,3.5,4,4.5,5,5.5,6,6.5,7,7.5,8,8.5,9,9.5,10,10.5,11,11.5,12,12.5,13,13.5,14,14.5],
            "grid": true,
            "gridColor": {"condition": {"test": "datum.value % 2 == 0", "value": "#f0a0a0"}, "value": "#d0d0d0"},
            "gridOpacity": {"condition": {"test": "datum.value == 0", "value": 0}, "value": 1},
            "labelExpr": "datum.value % 2 != 0 ? '' : (datum.value == 0 ? '0\u00a0\u00a0' : datum.value + '\u00a0m')",
            "labelPadding": 7, "labelBaseline": "middle", "zindex": 1,
            "title": "Seconds", "titleAngle": -90, "titleAlign": "center", "titleBaseline": "alphabetic", "titleX": -52, "titleY": 100.5}}
      }
    }
  ]
}
